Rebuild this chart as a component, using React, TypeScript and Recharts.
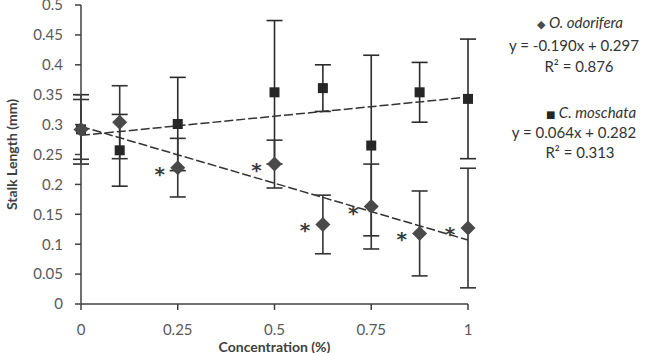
import React from "react";
import { ComposedChart, Scatter, XAxis, YAxis, ErrorBar, ReferenceLine, Label } from "recharts";

// ---- data ----
const concentration = [0, 0.1, 0.25, 0.5, 0.625, 0.75, 0.875, 1];
const odoriferaMean = [0.292, 0.304, 0.228, 0.234, 0.133, 0.163, 0.118, 0.127];
const odoriferaErr = [0.05, 0.061, 0.049, 0.04, 0.049, 0.071, 0.071, 0.1];
const odoriferaSig = [false, false, true, true, true, true, true, true];
const moschataMean = [0.292, 0.257, 0.301, 0.354, 0.361, 0.265, 0.354, 0.343];
const moschataErr = [0.058, 0.06, 0.078, 0.12, 0.039, 0.151, 0.05, 0.1];

const odoriferaFit = [-0.19, 0.297]; // slope, intercept
const moschataFit = [0.064, 0.282];

const xTicks = [0, 0.25, 0.5, 0.75, 1];
const yTicks = [0, 0.05, 0.1, 0.15, 0.2, 0.25, 0.3, 0.35, 0.4, 0.45, 0.5];

const legendOdorifera = ["O. odorifera", "y = -0.190x + 0.297", "R² = 0.876"];
const legendMoschata = ["C. moschata", "y = 0.064x + 0.282", "R² = 0.313"];

const odoriferaData = concentration.map((x, i) => ({
  x,
  y: odoriferaMean[i],
  err: odoriferaErr[i],
  sig: odoriferaSig[i],
}));
const moschataData = concentration.map((x, i) => ({ x, y: moschataMean[i], err: moschataErr[i] }));

const fitSegment = (fit: number[]) => [
  { x: xTicks[0], y: fit[0] * xTicks[0] + fit[1] },
  { x: xTicks[xTicks.length - 1], y: fit[0] * xTicks[xTicks.length - 1] + fit[1] },
];

const FONT = "Lato, 'Liberation Sans', sans-serif";

function DiamondShape(props: any) {
  const { cx, cy, payload } = props;
  if (cx == null || cy == null) return null;
  const r = 7.5;
  return (
    <g>
      <polygon
        points={`${cx},${cy - r} ${cx + r},${cy} ${cx},${cy + r} ${cx - r},${cy}`}
        fill="#4a4a4a"
      />
      {payload && payload.sig ? (
        <text
          x={cx - 18}
          y={cy + 13}
          fontSize={20}
          fontWeight="bold"
          fontFamily="'DejaVu Sans', sans-serif"
          fill="#3a3a3a"
          textAnchor="middle"
        >
          *
        </text>
      ) : null}
    </g>
  );
}

function SquareShape(props: any) {
  const { cx, cy } = props;
  if (cx == null || cy == null) return null;
  const s = 5;
  return <rect x={cx - s} y={cy - s} width={2 * s} height={2 * s} fill="#262626" />;
}

export default function App() {
  return (
    <div style={{ position: "relative", width: 646, height: 353, background: "#fff" }}>
      <style>{`body{margin:0}`}</style>
      <ComposedChart width={646} height={353} margin={{ top: 5, right: 178, bottom: 0, left: 0 }}>
        <XAxis
          type="number"
          dataKey="x"
          domain={[0, 1]}
          ticks={xTicks}
          interval={0}
          height={49}
          tickSize={6}
          tickMargin={14}
          axisLine={{ stroke: "#404040", strokeWidth: 1.5 }}
          tickLine={{ stroke: "#404040", strokeWidth: 1.5 }}
          tick={{ fill: "#595959", fontSize: 15, fontFamily: FONT }}
        >
          <Label
            content={(p: any) => {
              const vb = p.viewBox || { x: 81, y: 304, width: 387, height: 49 };
              return (
                <text
                  x={vb.x + vb.width / 2}
                  y={vb.y + 48}
                  textAnchor="middle"
                  fontSize={14}
                  fontWeight="bold"
                  fontFamily={FONT}
                  fill="#404040"
                >
                  Concentration (%)
                </text>
              );
            }}
          />
        </XAxis>
        <YAxis
          type="number"
          dataKey="y"
          domain={[0, 0.5]}
          ticks={yTicks}
          interval={0}
          width={81}
          tickSize={6}
          tickMargin={12}
          axisLine={{ stroke: "#404040", strokeWidth: 1.5 }}
          tickLine={{ stroke: "#404040", strokeWidth: 1.5 }}
          tick={{ fill: "#595959", fontSize: 15, fontFamily: FONT }}
        >
          <Label
            content={(p: any) => {
              const vb = p.viewBox || { x: 0, y: 5, width: 81, height: 299 };
              const cx = vb.x + 17;
              const cy = vb.y + vb.height / 2;
              return (
                <text
                  x={cx}
                  y={cy}
                  transform={`rotate(-90 ${cx} ${cy})`}
                  textAnchor="middle"
                  fontSize={14}
                  fontWeight="bold"
                  fontFamily={FONT}
                  fill="#404040"
                >
                  Stalk Length (mm)
                </text>
              );
            }}
          />
        </YAxis>
        <Scatter data={moschataData} dataKey="y" shape={SquareShape} isAnimationActive={false}>
          <ErrorBar dataKey="err" direction="y" width={8} stroke="#2b2b2b" strokeWidth={1.6} />
        </Scatter>
        <Scatter data={odoriferaData} dataKey="y" shape={DiamondShape} isAnimationActive={false}>
          <ErrorBar dataKey="err" direction="y" width={8} stroke="#333" strokeWidth={1.6} />
        </Scatter>
        <ReferenceLine
          segment={fitSegment(moschataFit)}
          stroke="#333"
          strokeWidth={1.5}
          strokeDasharray="9 3"
        />
        <ReferenceLine
          segment={fitSegment(odoriferaFit)}
          stroke="#333"
          strokeWidth={1.5}
          strokeDasharray="9 3"
        />
      </ComposedChart>
      <svg
        width={646}
        height={353}
        style={{ position: "absolute", left: 0, top: 0, pointerEvents: "none" }}
      >
        <g fontFamily={FONT} fontSize={15} fill="#333">
          <text x={580} y={28} textAnchor="middle">
            <tspan fill="#4a4a4a" fontSize={11} fontFamily="'DejaVu Sans'">◆</tspan>
            <tspan fontStyle="italic"> {legendOdorifera[0]}</tspan>
          </text>
          <text x={574} y={51} textAnchor="middle">{legendOdorifera[1]}</text>
          <text x={579} y={72} textAnchor="middle">{legendOdorifera[2]}</text>
          <text x={591} y={118} textAnchor="middle">
            <tspan fill="#262626" fontSize={10} fontFamily="'DejaVu Sans'">■</tspan>
            <tspan fontStyle="italic"> {legendMoschata[0]}</tspan>
          </text>
          <text x={574} y={138} textAnchor="middle">{legendMoschata[1]}</text>
          <text x={580} y={158} textAnchor="middle">{legendMoschata[2]}</text>
        </g>
      </svg>
    </div>
  );
}
